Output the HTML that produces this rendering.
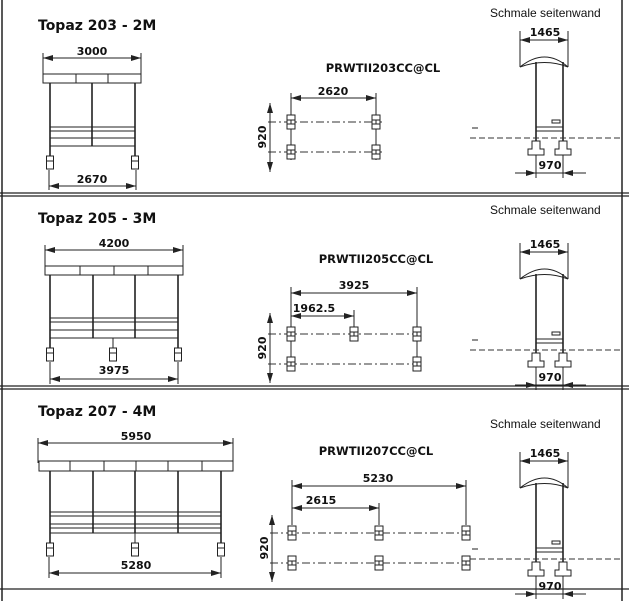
<!DOCTYPE html>
<html><head><meta charset="utf-8"><style>
body{margin:0;background:#fff}
svg{display:block}
text{font-family:"DejaVu Sans","Liberation Sans",sans-serif;fill:#111}
.t{font-size:14px;font-weight:bold}
.d{font-size:11px;font-weight:bold;text-anchor:middle}
.s{font-family:"Liberation Sans",sans-serif;font-size:12px}
.l{stroke:#222;stroke-width:1;fill:none}
.p{stroke:#222;stroke-width:1.6;fill:none}
.dash{stroke:#333;stroke-width:1;stroke-dasharray:8 3 2 3;fill:none}
.dsh{stroke:#333;stroke-width:1;stroke-dasharray:6 3;fill:none}
.b{stroke:#222;stroke-width:1;fill:#fff}
</style></head><body>
<svg width="629" height="601" viewBox="0 0 629 601">
<defs>
<marker id="a" viewBox="0 0 10 6" refX="10" refY="3" markerWidth="10" markerHeight="6" orient="auto-start-reverse" markerUnits="userSpaceOnUse"><path d="M0,0L10,3L0,6z" fill="#222"/></marker>
<g id="box"><rect x="-4" y="-7" width="8" height="14" class="b"/><line x1="-4" y1="-2" x2="4" y2="-2" class="l"/><line x1="-4" y1="2" x2="4" y2="2" class="l"/><line x1="0" y1="-2" x2="0" y2="2" class="l"/></g>
<g id="foot"><rect x="-3.5" y="0" width="7" height="13" class="b"/><line x1="-3.5" y1="5" x2="3.5" y2="5" class="l"/></g>
<g id="side">
<path d="M520,67 Q545,47 568,67 Q545,58 520,67 Z" class="b" stroke-width="1.4"/>
<line x1="536" y1="62" x2="536" y2="141" class="p"/><line x1="563" y1="62" x2="563" y2="141" class="p"/>
<line x1="536" y1="127" x2="563" y2="127" class="l"/><line x1="536" y1="131" x2="563" y2="131" class="l"/>
<rect x="552" y="120" width="8" height="3" class="b"/>
<line x1="470" y1="138" x2="622" y2="138" class="dsh"/>
<line x1="472" y1="128" x2="478" y2="128" class="l"/>
<path d="M532,141h8v8h4v6h-16v-6h4z" class="b"/><path d="M559,141h8v8h4v6h-16v-6h4z" class="b"/>
<line x1="520" y1="31" x2="520" y2="67" class="l"/><line x1="568" y1="31" x2="568" y2="67" class="l"/>
<line x1="520" y1="40" x2="568" y2="40" class="l" marker-start="url(#a)" marker-end="url(#a)"/>
<text x="545" y="36" class="d">1465</text>
<line x1="536" y1="155" x2="536" y2="178" class="l"/><line x1="563" y1="155" x2="563" y2="178" class="l"/>
<line x1="515" y1="173" x2="586" y2="173" class="l"/>
<path d="M526,170L536,173L526,176z M573,170L563,173L573,176z" fill="#222"/>
<text x="550" y="169" class="d">970</text>
</g>
</defs>

<line x1="2" y1="0" x2="2" y2="601" stroke="#222" stroke-width="1.5"/>
<line x1="622" y1="0" x2="622" y2="601" stroke="#222" stroke-width="1.5"/>
<line x1="0" y1="193" x2="629" y2="193" stroke="#222" stroke-width="1.3"/>
<line x1="0" y1="196" x2="629" y2="196" stroke="#222" stroke-width="1.3"/>
<line x1="0" y1="386" x2="629" y2="386" stroke="#222" stroke-width="1.3"/>
<line x1="0" y1="389" x2="629" y2="389" stroke="#222" stroke-width="1.3"/>
<line x1="0" y1="589" x2="629" y2="589" stroke="#222" stroke-width="1.3"/>

<!-- SECTION 1 -->
<text x="38" y="30" class="t">Topaz 203 - 2M</text>
<line x1="43" y1="53" x2="43" y2="75" class="l"/><line x1="141" y1="53" x2="141" y2="75" class="l"/>
<line x1="43" y1="58" x2="141" y2="58" class="l" marker-start="url(#a)" marker-end="url(#a)"/>
<text x="92" y="55" class="d">3000</text>
<rect x="43" y="74" width="98" height="9" class="b" stroke-width="1.4"/>
<line x1="76" y1="74" x2="76" y2="83" class="l"/><line x1="108" y1="74" x2="108" y2="83" class="l"/>
<line x1="50" y1="83" x2="50" y2="156" class="p"/><line x1="135" y1="83" x2="135" y2="156" class="p"/><line x1="92" y1="83" x2="92" y2="146" class="p"/>
<line x1="50" y1="127" x2="135" y2="127" class="l"/><line x1="50" y1="131" x2="135" y2="131" class="l"/><line x1="50" y1="138" x2="135" y2="138" class="l"/><line x1="50" y1="146" x2="135" y2="146" class="l"/>
<use href="#foot" x="50" y="156"/><use href="#foot" x="135" y="156"/>
<line x1="49" y1="170" x2="49" y2="190" class="l"/><line x1="136" y1="170" x2="136" y2="190" class="l"/>
<line x1="49" y1="186" x2="136" y2="186" class="l" marker-start="url(#a)" marker-end="url(#a)"/>
<text x="92" y="183" class="d">2670</text>

<text x="383" y="72" class="d" style="font-size:11.5px">PRWTII203CC@CL</text>
<line x1="291" y1="93" x2="291" y2="160" class="l"/><line x1="376" y1="93" x2="376" y2="160" class="l"/>
<line x1="291" y1="98" x2="376" y2="98" class="l" marker-start="url(#a)" marker-end="url(#a)"/>
<text x="333" y="95" class="d">2620</text>
<line x1="268" y1="122" x2="382" y2="122" class="dash"/><line x1="268" y1="152" x2="382" y2="152" class="dash"/>
<use href="#box" x="291" y="122"/><use href="#box" x="376" y="122"/><use href="#box" x="291" y="152"/><use href="#box" x="376" y="152"/>
<line x1="270" y1="103" x2="270" y2="172" class="l" marker-start="url(#a)" marker-end="url(#a)"/>
<text transform="translate(266,137) rotate(-90)" class="d">920</text>

<text x="490" y="17" class="s">Schmale seitenwand</text>
<use href="#side"/>

<!-- SECTION 2 -->
<text x="38" y="223" class="t">Topaz 205 - 3M</text>
<line x1="45" y1="245" x2="45" y2="268" class="l"/><line x1="183" y1="245" x2="183" y2="268" class="l"/>
<line x1="45" y1="250" x2="183" y2="250" class="l" marker-start="url(#a)" marker-end="url(#a)"/>
<text x="114" y="247" class="d">4200</text>
<rect x="45" y="266" width="138" height="9" class="b" stroke-width="1.4"/>
<line x1="80" y1="266" x2="80" y2="275" class="l"/><line x1="114" y1="266" x2="114" y2="275" class="l"/><line x1="148" y1="266" x2="148" y2="275" class="l"/>
<line x1="50" y1="275" x2="50" y2="348" class="p"/><line x1="178" y1="275" x2="178" y2="348" class="p"/>
<line x1="93" y1="275" x2="93" y2="338" class="p"/><line x1="135" y1="275" x2="135" y2="338" class="p"/>
<line x1="50" y1="318" x2="178" y2="318" class="l"/><line x1="50" y1="322" x2="178" y2="322" class="l"/><line x1="50" y1="330" x2="178" y2="330" class="l"/><line x1="50" y1="338" x2="178" y2="338" class="l"/>
<line x1="113" y1="338" x2="113" y2="348" class="l"/>
<use href="#foot" x="50" y="348"/><use href="#foot" x="113" y="348"/><use href="#foot" x="178" y="348"/>
<line x1="50" y1="362" x2="50" y2="384" class="l"/><line x1="178" y1="362" x2="178" y2="384" class="l"/>
<line x1="50" y1="379" x2="178" y2="379" class="l" marker-start="url(#a)" marker-end="url(#a)"/>
<text x="114" y="374" class="d">3975</text>

<text x="376" y="263" class="d" style="font-size:11.5px">PRWTII205CC@CL</text>
<line x1="291" y1="287" x2="291" y2="368" class="l"/><line x1="417" y1="287" x2="417" y2="368" class="l"/><line x1="354" y1="310" x2="354" y2="330" class="l"/>
<line x1="291" y1="293" x2="417" y2="293" class="l" marker-start="url(#a)" marker-end="url(#a)"/>
<text x="354" y="289" class="d">3925</text>
<line x1="291" y1="316" x2="354" y2="316" class="l" marker-start="url(#a)" marker-end="url(#a)"/>
<text x="314" y="312" class="d">1962.5</text>
<line x1="268" y1="334" x2="422" y2="334" class="dash"/><line x1="268" y1="364" x2="422" y2="364" class="dash"/>
<use href="#box" x="291" y="334"/><use href="#box" x="354" y="334"/><use href="#box" x="417" y="334"/>
<use href="#box" x="291" y="364"/><use href="#box" x="417" y="364"/>
<line x1="270" y1="313" x2="270" y2="383" class="l" marker-start="url(#a)" marker-end="url(#a)"/>
<text transform="translate(266,348) rotate(-90)" class="d">920</text>

<text x="490" y="214" class="s">Schmale seitenwand</text>
<use href="#side" y="212"/>

<!-- SECTION 3 -->
<text x="38" y="416" class="t">Topaz 207 - 4M</text>
<line x1="38" y1="438" x2="38" y2="463" class="l"/><line x1="233" y1="438" x2="233" y2="463" class="l"/>
<line x1="38" y1="443" x2="233" y2="443" class="l" marker-start="url(#a)" marker-end="url(#a)"/>
<text x="136" y="440" class="d">5950</text>
<rect x="39" y="461" width="194" height="10" class="b" stroke-width="1.4"/>
<line x1="70" y1="461" x2="70" y2="471" class="l"/><line x1="104" y1="461" x2="104" y2="471" class="l"/><line x1="136" y1="461" x2="136" y2="471" class="l"/><line x1="168" y1="461" x2="168" y2="471" class="l"/><line x1="202" y1="461" x2="202" y2="471" class="l"/>
<line x1="50" y1="471" x2="50" y2="543" class="p"/><line x1="221" y1="471" x2="221" y2="543" class="p"/>
<line x1="93" y1="471" x2="93" y2="533" class="p"/><line x1="135" y1="471" x2="135" y2="533" class="p"/><line x1="178" y1="471" x2="178" y2="533" class="p"/>
<line x1="50" y1="512" x2="221" y2="512" class="l"/><line x1="50" y1="516" x2="221" y2="516" class="l"/><line x1="50" y1="524" x2="221" y2="524" class="l"/><line x1="50" y1="528" x2="221" y2="528" class="l"/><line x1="50" y1="533" x2="221" y2="533" class="l"/>
<line x1="135" y1="533" x2="135" y2="543" class="l"/>
<use href="#foot" x="50" y="543"/><use href="#foot" x="135" y="543"/><use href="#foot" x="221" y="543"/>
<line x1="49" y1="557" x2="49" y2="578" class="l"/><line x1="221" y1="557" x2="221" y2="578" class="l"/>
<line x1="49" y1="573" x2="221" y2="573" class="l" marker-start="url(#a)" marker-end="url(#a)"/>
<text x="136" y="569" class="d">5280</text>

<text x="376" y="455" class="d" style="font-size:11.5px">PRWTII207CC@CL</text>
<line x1="292" y1="480" x2="292" y2="525" class="l"/><line x1="466" y1="480" x2="466" y2="525" class="l"/><line x1="379" y1="503" x2="379" y2="525" class="l"/>
<line x1="292" y1="486" x2="466" y2="486" class="l" marker-start="url(#a)" marker-end="url(#a)"/>
<text x="378" y="482" class="d">5230</text>
<line x1="292" y1="508" x2="379" y2="508" class="l" marker-start="url(#a)" marker-end="url(#a)"/>
<text x="321" y="504" class="d">2615</text>
<line x1="270" y1="533" x2="470" y2="533" class="dash"/><line x1="270" y1="563" x2="470" y2="563" class="dash"/>
<use href="#box" x="292" y="533"/><use href="#box" x="379" y="533"/><use href="#box" x="466" y="533"/>
<use href="#box" x="292" y="563"/><use href="#box" x="379" y="563"/><use href="#box" x="466" y="563"/>
<line x1="272" y1="515" x2="272" y2="582" class="l" marker-start="url(#a)" marker-end="url(#a)"/>
<text transform="translate(268,548) rotate(-90)" class="d">920</text>

<text x="490" y="428" class="s">Schmale seitenwand</text>
<use href="#side" y="421"/>
</svg>
</body></html>
